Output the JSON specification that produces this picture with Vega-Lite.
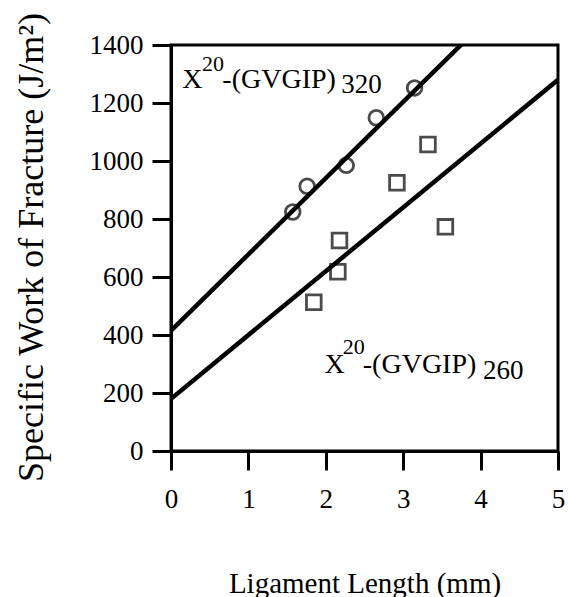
{
  "$schema": "https://vega.github.io/schema/vega-lite/v6.json",
  "width": 387,
  "height": 406,
  "autosize": "none",
  "padding": {"left": 171, "top": 45, "right": 10, "bottom": 146},
  "background": "white",
  "config": {
    "view": {"stroke": "black", "strokeWidth": 3},
    "font": "Liberation Serif",
    "axis": {
      "domainColor": "black", "domainWidth": 3,
      "tickColor": "black", "tickWidth": 3, "tickSize": 19,
      "grid": false,
      "labelFont": "Liberation Serif", "labelFontSize": 27, "labelColor": "black",
      "titleFont": "Liberation Serif", "titleFontWeight": "normal", "titleColor": "black"
    }
  },
  "datasets": {
    "points": [
      {"series": "320", "x": 1.573, "y": 824},
      {"series": "320", "x": 1.759, "y": 913},
      {"series": "320", "x": 2.264, "y": 985},
      {"series": "320", "x": 2.652, "y": 1149},
      {"series": "320", "x": 3.147, "y": 1252},
      {"series": "260", "x": 1.845, "y": 513},
      {"series": "260", "x": 2.156, "y": 618},
      {"series": "260", "x": 2.177, "y": 726},
      {"series": "260", "x": 2.919, "y": 925},
      {"series": "260", "x": 3.32, "y": 1057},
      {"series": "260", "x": 3.545, "y": 773}
    ],
    "fits": [
      {"series": "320", "x": 0, "y": 415},
      {"series": "320", "x": 5, "y": 1730},
      {"series": "260", "x": 0, "y": 180},
      {"series": "260", "x": 5, "y": 1280}
    ],
    "labels": [
      {"series": "320", "part": "main", "x": 0.146, "y": 1252, "text": "X"},
      {"series": "320", "part": "sup", "x": 0.401, "y": 1309, "text": "20"},
      {"series": "320", "part": "main", "x": 0.663, "y": 1252, "text": "-(GVGIP)"},
      {"series": "320", "part": "sub", "x": 2.199, "y": 1235, "text": "320"},
      {"series": "260", "part": "main", "x": 1.983, "y": 270, "text": "X"},
      {"series": "260", "part": "sup", "x": 2.219, "y": 333, "text": "20"},
      {"series": "260", "part": "main", "x": 2.478, "y": 270, "text": "-(GVGIP)"},
      {"series": "260", "part": "sub", "x": 4.03, "y": 249, "text": "260"}
    ]
  },
  "encoding": {
    "x": {
      "field": "x", "type": "quantitative",
      "scale": {"domain": [0, 5], "nice": false, "zero": false},
      "axis": {
        "values": [0, 1, 2, 3, 4, 5], "format": "d",
        "title": "Ligament Length (mm)",
        "titleFontSize": 29, "titleY": 141, "titleBaseline": "alphabetic",
        "labelBaseline": "alphabetic", "labelPadding": 37, "labelFlush": false
      }
    },
    "y": {
      "field": "y", "type": "quantitative",
      "scale": {"domain": [0, 1400], "nice": false, "zero": false},
      "axis": {
        "values": [0, 200, 400, 600, 800, 1000, 1200, 1400], "format": "d",
        "title": "Specific Work of Fracture (J/m²)",
        "titleFontSize": 36, "titleX": -129, "titleY": 202, "titleAngle": -90,
        "titleBaseline": "alphabetic", "titleAlign": "center",
        "labelPadding": 9, "labelFlush": false
      }
    }
  },
  "layer": [
    {
      "data": {"name": "fits"},
      "mark": {"type": "line", "color": "black", "strokeWidth": 4.5, "clip": true},
      "encoding": {"detail": {"field": "series"}}
    },
    {
      "data": {"name": "points"},
      "mark": {"type": "point", "filled": false, "color": "black", "strokeWidth": 2.8, "size": 215},
      "encoding": {
        "shape": {"field": "series", "type": "nominal", "scale": {"domain": ["320", "260"], "range": ["circle", "square"]}, "legend": null}
      }
    },
    {
      "data": {"name": "labels"},
      "transform": [{"filter": "datum.part === 'main'"}],
      "mark": {"type": "text", "align": "left", "baseline": "alphabetic", "fontSize": 28, "font": "Liberation Serif", "color": "black"},
      "encoding": {"text": {"field": "text"}}
    },
    {
      "data": {"name": "labels"},
      "transform": [{"filter": "datum.part === 'sup'"}],
      "mark": {"type": "text", "align": "left", "baseline": "alphabetic", "fontSize": 22, "font": "Liberation Serif", "color": "black"},
      "encoding": {"text": {"field": "text"}}
    },
    {
      "data": {"name": "labels"},
      "transform": [{"filter": "datum.part === 'sub'"}],
      "mark": {"type": "text", "align": "left", "baseline": "alphabetic", "fontSize": 27, "font": "Liberation Serif", "color": "black"},
      "encoding": {"text": {"field": "text"}}
    }
  ]
}
